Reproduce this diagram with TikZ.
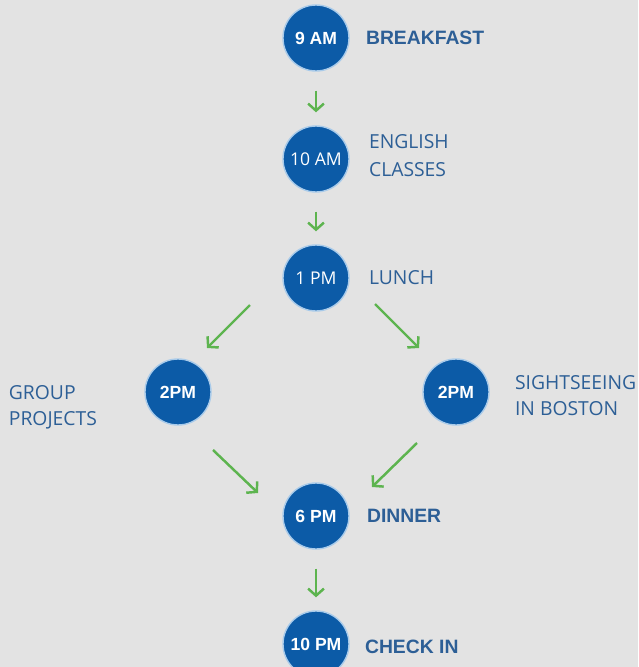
\documentclass[tikz,border=0pt]{standalone}
\usepackage{fontspec}
\setmainfont{Open Sans}
\newfontfamily\boldfont{Liberation Sans}
\usetikzlibrary{positioning,arrows.meta}

\definecolor{bgGray}{HTML}{E3E3E3}
\definecolor{dotBlue}{HTML}{0C5BA7}
\definecolor{haloBlue}{HTML}{A9CBEA}
\definecolor{textBlue}{HTML}{2D5F96}
\definecolor{arrowGreen}{HTML}{5DB44F}

\tikzset{
  slot/.style={circle, fill=dotBlue, draw=haloBlue, line width=0.8pt, minimum size=1.32cm, inner sep=0pt, text=white, font=\fontsize{10}{12}\selectfont},
  boldslot/.style={slot, font=\boldfont\bfseries\fontsize{10}{12}\selectfont},
  what/.style={inner sep=0pt, text=textBlue, align=left, font=\fontsize{11}{15}\selectfont},
  boldwhat/.style={what, font=\boldfont\bfseries\fontsize{11}{15}\selectfont},
  flow/.style={arrowGreen, line width=1.4pt, -{Straight Barb[length=4pt,width=9pt]}}
}

\begin{document}
\begin{tikzpicture}[node distance=2.4cm]
        \useasboundingbox[fill=bgGray] (-6.32,0.76) rectangle (6.44,-12.58);

        \node (nine) [boldslot] {9 AM};
        \node (ten) [slot, below of=nine, yshift=-0.02cm] {10 AM};
        \node (one) [slot, below of=ten, yshift=0.02cm] {1 PM};
        \node (groupTwo) [boldslot, below of=one, xshift=-2.76cm, yshift=0.12cm] {2PM};
        \node (bostonTwo) [boldslot, below of=one, xshift=2.8cm, yshift=0.12cm] {2PM};
        \node (six) [boldslot, below of=groupTwo, xshift=2.76cm, yshift=-0.08cm] {6 PM};
        \node (tenPm) [boldslot, below of=six, yshift=-0.16cm] {10 PM};

        \node (breakfast) [boldwhat, right=0.32cm of nine] {BREAKFAST};
        \node (classes) [what, right=0.38cm of ten, yshift=0.06cm, font=\fontsize{11}{16}\selectfont] {ENGLISH\\CLASSES};
        \node (lunch) [what, right=0.38cm of one] {LUNCH};
        \node (projects) [what, left=0.94cm of groupTwo, yshift=-0.3cm] {GROUP\\PROJECTS};
        \node (sights) [what, right=0.5cm of bostonTwo, yshift=-0.07cm] {SIGHTSEEING\\IN BOSTON};
        \node (dinner) [boldwhat, right=0.34cm of six] {DINNER};
        \node (checkin) [boldwhat, right=0.3cm of tenPm, yshift=-0.06cm] {CHECK IN};

        \draw[flow, shorten <=0.38cm, shorten >=0.26cm] (nine) -- (ten);
        \draw[flow, shorten <=0.38cm, shorten >=0.26cm] (ten) -- (one);
        \draw[flow] ([shift={(-1.32,-0.54)}]one.center) -- ([shift={(0.58,0.88)}]groupTwo.center);
        \draw[flow] ([shift={(1.18,-0.52)}]one.center) -- ([shift={(-0.74,0.88)}]bostonTwo.center);
        \draw[flow] ([shift={(0.7,-1.16)}]groupTwo.center) -- ([shift={(-1.16,0.46)}]six.center);
        \draw[flow] ([shift={(-0.78,-1.02)}]bostonTwo.center) -- ([shift={(1.12,0.58)}]six.center);
        \draw[flow, shorten <=0.38cm, shorten >=0.26cm] (six) -- (tenPm);
    \end{tikzpicture}
\end{document}
